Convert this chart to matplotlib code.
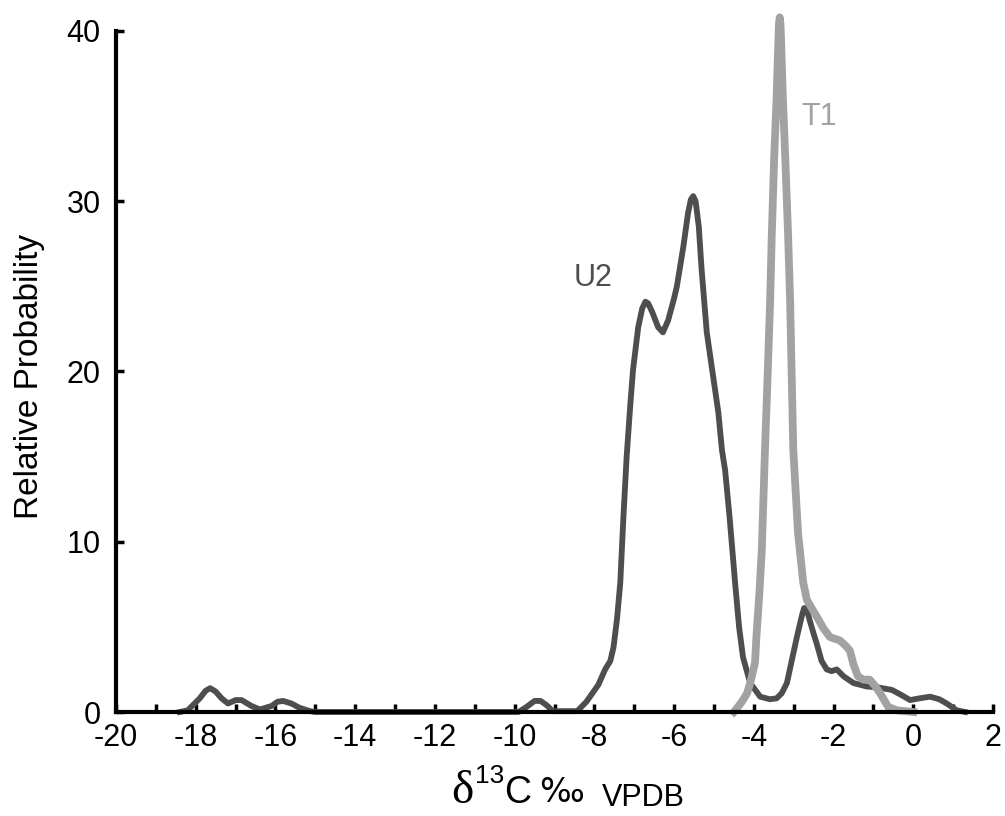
import matplotlib
matplotlib.use("Agg")
import matplotlib.pyplot as plt
from matplotlib.ticker import MultipleLocator

plt.rcParams['axes.unicode_minus'] = False

# U2 curve (dark grey)
u2_x = [-18.4, -18.2, -17.9, -17.75, -17.64, -17.5, -17.35, -17.19, -17.0, -16.85,
        -16.6, -16.39, -16.1, -15.95, -15.81, -15.6, -15.4, -15.13, -15.0, -9.9,
        -9.7, -9.5, -9.35, -9.2, -9.04, -8.43, -8.2, -7.9, -7.73, -7.6,
        -7.52, -7.43, -7.35, -7.27, -7.19, -7.1, -7.03, -6.9, -6.8, -6.72,
        -6.65, -6.55, -6.4, -6.28, -6.15, -6.0, -5.93, -5.77, -5.65, -5.58,
        -5.52, -5.46, -5.38, -5.31, -5.18, -5.02, -4.89, -4.8, -4.72, -4.61,
        -4.47, -4.37, -4.27, -4.09, -3.84, -3.6, -3.43, -3.3, -3.17, -3.05,
        -2.92, -2.8, -2.74, -2.68, -2.6, -2.5, -2.42, -2.3, -2.17, -2.05,
        -1.92, -1.75, -1.5, -1.17, -0.9, -0.54, -0.3, -0.08, 0.15, 0.42,
        0.65, 0.84, 1.09, 1.3]
u2_y = [0.0, 0.1, 0.8, 1.25, 1.4, 1.2, 0.8, 0.5, 0.7, 0.7,
        0.35, 0.15, 0.35, 0.6, 0.65, 0.5, 0.25, 0.05, 0.0, 0.0,
        0.3, 0.65, 0.65, 0.4, 0.05, 0.05, 0.6, 1.6, 2.5, 3.0,
        3.8, 5.5, 7.6, 11.5, 15.0, 18.0, 20.1, 22.6, 23.7, 24.1,
        24.0, 23.5, 22.6, 22.3, 23.0, 24.3, 25.0, 27.3, 29.3, 30.1,
        30.3, 30.0, 28.5, 26.0, 22.3, 19.7, 17.6, 15.4, 14.2, 11.5,
        7.6, 5.0, 3.2, 1.7, 0.9, 0.75, 0.8, 1.1, 1.7, 3.0,
        4.4, 5.6, 6.1, 6.1, 5.4, 4.6, 4.0, 3.0, 2.5, 2.4,
        2.5, 2.1, 1.7, 1.5, 1.45, 1.3, 1.0, 0.7, 0.8, 0.9,
        0.75, 0.5, 0.1, 0.0]

# T1 curve (light grey)
t1_x = [-4.5, -4.43, -4.3, -4.17, -4.09, -3.97, -3.93, -3.86, -3.8, -3.72,
        -3.65, -3.59, -3.55, -3.49, -3.43, -3.39, -3.37, -3.35, -3.33, -3.31,
        -3.27, -3.21, -3.14, -3.09, -3.01, -2.89, -2.76, -2.67, -2.55, -2.42,
        -2.25, -2.09, -1.84, -1.7, -1.59, -1.5, -1.39, -1.25, -1.09, -0.95,
        -0.83, -0.63, -0.41, 0.0]
t1_y = [0.0, 0.2, 0.6, 1.1, 1.7, 2.9, 4.6, 7.0, 9.5, 15.4,
        20.0, 24.2, 28.0, 32.5, 36.0, 39.0, 40.4, 40.8, 40.4, 39.0,
        36.0, 32.5, 28.0, 24.2, 15.4, 10.5, 7.6, 6.6, 6.1, 5.6,
        4.9, 4.4, 4.2, 3.9, 3.6, 2.8, 2.1, 1.9, 1.9, 1.5,
        1.1, 0.3, 0.1, 0.0]

x_ticks = list(range(-20, 3, 2))
y_ticks = [0, 10, 20, 30, 40]

dark = "#4e4e4e"
light = "#a2a2a2"
sans = "Liberation Sans"

fig = plt.figure(figsize=(10.05, 8.16), dpi=100)
ax = fig.add_axes([116 / 1005, 1 - 712 / 816, 877 / 1005, 681 / 816])

ax.plot(u2_x, u2_y, color=dark, lw=4.2, solid_joinstyle="round", clip_on=False, zorder=3)
ax.plot(t1_x, t1_y, color=light, lw=5.6, solid_joinstyle="round", clip_on=False, zorder=4)

ax.set_xlim(-20, 2)
ax.set_ylim(0, 40)
ax.set_xticks(x_ticks)
ax.set_xticklabels([str(v) for v in x_ticks])
ax.xaxis.set_minor_locator(MultipleLocator(1))
ax.set_yticks(y_ticks)

for s in ["top", "right"]:
    ax.spines[s].set_visible(False)
for s in ["left", "bottom"]:
    ax.spines[s].set_linewidth(3.0)
    ax.spines[s].set_zorder(5)

ax.tick_params(axis="x", which="both", direction="in", length=5.5, width=2.5,
               pad=8, labelsize=22)
ax.tick_params(axis="y", which="major", direction="in", length=5.5, width=2.5,
               pad=11, labelsize=22)
for lab in ax.get_xticklabels() + ax.get_yticklabels():
    lab.set_family(sans)

ax.text(-8.03, 25.5, "U2", color=dark, fontsize=22, family=sans, ha="center", va="center")
ax.text(-2.36, 34.95, "T1", color=light, fontsize=22, family=sans, ha="center", va="center")

fig.text(30 / 1005, 1 - 376 / 816, "Relative Probability", rotation=90, fontsize=24,
         family=sans, ha="center", va="center")

# x label built from pieces: delta, superscript 13, C, permil, VPDB
W, H = 1005, 816
fig.text(451 / W, 1 - 803 / H, "\u03b4", fontsize=34, family="Liberation Serif", va="baseline")
fig.text(475 / W, 1 - 783 / H, "13", fontsize=19, family=sans, va="baseline")
fig.text(504 / W, 1 - 803 / H, "C", fontsize=27, family=sans, va="baseline")
fig.text(539 / W, 1 - 802 / H, "\u2030", fontsize=24, family="DejaVu Sans", va="baseline")
fig.text(602 / W, 1 - 806 / H, "VPDB", fontsize=22, family=sans, va="baseline")

fig.savefig("out.png", dpi=100)
